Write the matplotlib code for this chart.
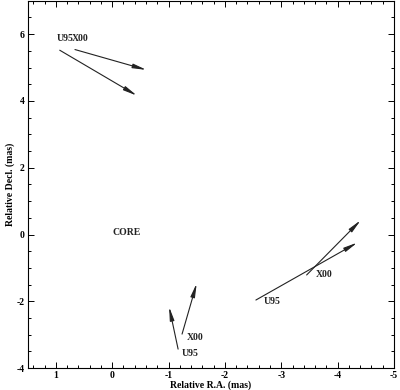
import matplotlib.pyplot as plt
from matplotlib.ticker import MultipleLocator

# component motion vectors (relative R.A., relative Decl., in mas)
arrow_start_x = [0.93, 0.66, -1.17, -1.24, -2.55, -3.45]
arrow_start_y = [5.52, 5.54, -3.43, -2.98, -1.96, -1.21]
arrow_end_x = [-0.44, -0.61, -1.01, -1.50, -4.35, -4.41]
arrow_end_y = [4.16, 4.93, -2.16, -1.46, -0.24, 0.43]

# labels
label_text = ["U95", "X00", "U95", "X00", "U95", "X00", "CORE"]
label_x = [0.99, 0.71, -1.24, -1.32, -2.69, -3.62, 0.0]
label_y = [5.87, 5.88, -3.57, -3.07, -2.01, -1.21, 0.06]

plt.rcParams['font.family'] = ['Liberation Serif', 'DejaVu Serif']
plt.rcParams['axes.unicode_minus'] = False

fig = plt.figure(figsize=(4.0, 3.9), dpi=100)
ax = fig.add_axes([0.069, 0.056, 0.916, 0.942])

for x0, y0, x1, y1 in zip(arrow_start_x, arrow_start_y, arrow_end_x, arrow_end_y):
    ax.annotate('', xy=(x1, y1), xytext=(x0, y0),
                arrowprops=dict(arrowstyle='-|>,head_length=0.8,head_width=0.13',
                                color='#222222', lw=0.8, shrinkA=0, shrinkB=0))

for t, x, y in zip(label_text, label_x, label_y):
    ax.text(x, y, t, fontsize=7, fontweight='bold', ha='left', va='center', color='#222222')

ax.set_xlim(1.5, -5)
ax.set_ylim(-4, 7)
ax.xaxis.set_major_locator(MultipleLocator(1))
ax.xaxis.set_minor_locator(MultipleLocator(0.2))
ax.yaxis.set_major_locator(MultipleLocator(2))
ax.yaxis.set_minor_locator(MultipleLocator(0.5))
ax.tick_params(which='both', direction='in', top=True, right=True, labelsize=7, width=0.7, pad=2)
ax.tick_params(which='major', length=4)
ax.tick_params(which='minor', length=2)
for lab in ax.get_xticklabels() + ax.get_yticklabels():
    lab.set_fontweight('bold')
for s in ax.spines.values():
    s.set_linewidth(0.8)

ax.set_xlabel('Relative R.A. (mas)', fontsize=7, fontweight='bold', labelpad=0)
ax.set_ylabel('Relative Decl. (mas)', fontsize=7, fontweight='bold', labelpad=1)

fig.savefig('out.png', dpi=100)
